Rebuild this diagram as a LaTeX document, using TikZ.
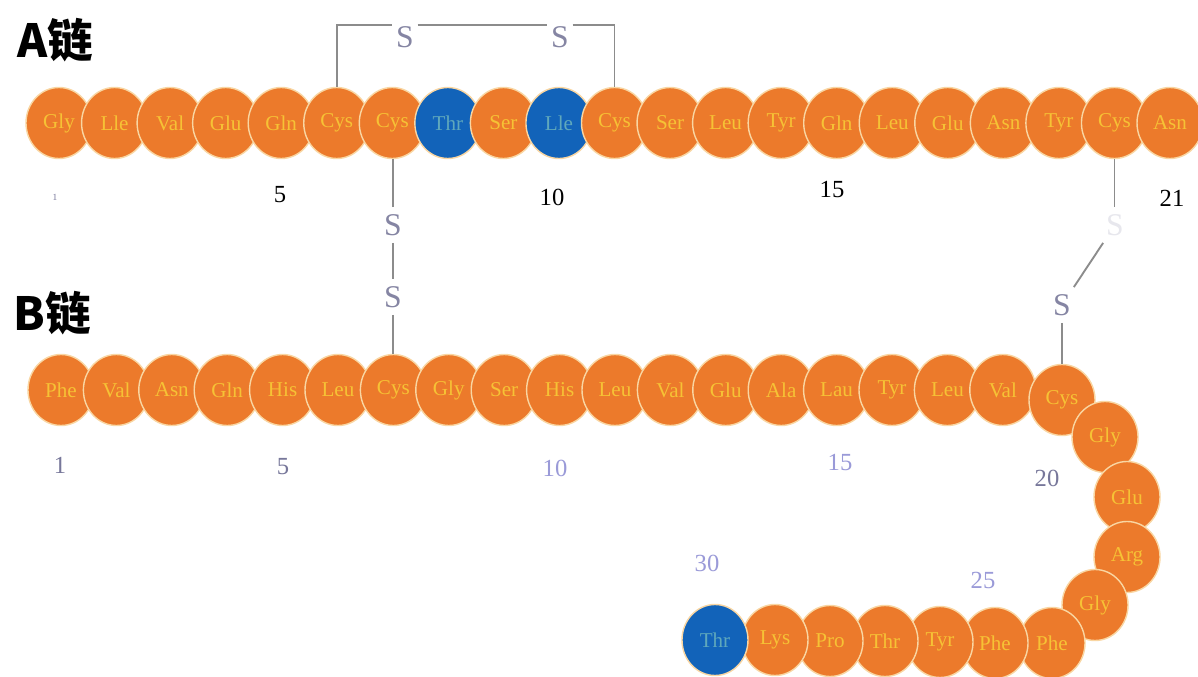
\documentclass[tikz,border=0pt]{standalone}
\usepackage{fontspec}
\setmainfont{Liberation Serif}
\newfontfamily\cjk{Noto Sans CJK SC}
\usetikzlibrary{shapes}
\definecolor{reso}{HTML}{EC7A2B}
\definecolor{resb}{HTML}{1263B9}
\definecolor{txto}{HTML}{F6C235}
\definecolor{txtb}{HTML}{5FA8BC}
\definecolor{rescream}{HTML}{F9D6A2}
\definecolor{sgray}{HTML}{8585A3}
\definecolor{bondgray}{HTML}{8C8C8C}
\definecolor{numgray}{HTML}{77779A}
\definecolor{numblue}{HTML}{9A9AD8}

\begin{document}
\begin{tikzpicture}[x=0.03cm,y=-0.03cm]
\tikzstyle{res}=[ellipse,draw=rescream,line width=1.2pt,minimum width=1.98cm,minimum height=2.13cm,inner sep=0pt,font=\fontsize{18}{18}\selectfont]
\tikzstyle{sul}=[text=sgray,font=\fontsize{27}{27}\selectfont,inner xsep=3pt,inner ysep=6pt]
\tikzstyle{bond}=[draw=bondgray,line width=1.6pt]
\tikzstyle{numA}=[font=\fontsize{21}{21}\selectfont]
\tikzstyle{numB}=[text=numgray,font=\fontsize{21}{21}\selectfont]
\tikzstyle{chainlabel}=[font=\cjk\bfseries\fontsize{39}{39}\selectfont]
\useasboundingbox (0,0) rectangle (1198,677);
\fill[white] (0,0) rectangle (1198,677);

% A chain
\foreach \t/\c [count=\i] in {Gly/o,Lle/o,Val/o,Glu/o,Gln/o,Cys/o,Cys/o,Thr/b,Ser/o,Lle/b,Cys/o,
  Ser/o,Leu/o,Tyr/o,Gln/o,Leu/o,Glu/o,Asn/o,Tyr/o,Cys/o,Asn/o}
  \node[res,fill=res\c,text=txt\c] (a\i) at ({59+55.55*(\i-1)},123) {\t};

% B chain
\foreach \t [count=\i] in {Phe,Val,Asn,Gln,His,Leu,Cys,Gly,Ser,His,Leu,Val,Glu,Ala,Lau,Tyr,Leu,Val}
  \node[res,fill=reso,text=txto] (b\i) at ({61+55.4*(\i-1)},390) {\t};
\foreach \t/\c/\x/\y [count=\i from 19] in {Cys/o/1062/400,Gly/o/1105/437,Glu/o/1127/497,
  Arg/o/1127/557,Gly/o/1095/605,Phe/o/1052/643,Phe/o/995/643,Tyr/o/940/642,
  Thr/o/885/641,Pro/o/830/641,Lys/o/775/640,Thr/b/715/640}
  \node[res,fill=res\c,text=txt\c] (b\i) at (\x,\y) {\t};

% disulfide bonds
\node[sul,inner ysep=1pt] (s1) at (405,37) {S};
\node[sul,inner ysep=1pt] (s2) at (560,37) {S};
\draw[bond] (a6.north) |- (s1.north west);
\draw[bond] (s1.north east) -- (s2.north west);
\draw[bond] (s2.north east) -| (a11.north);
\node[sul] (s3) at (393,225) {S};
\node[sul] (s4) at (393,297) {S};
\draw[bond] (s3) -- (s3 |- a7.south);
\draw[bond] (s3) -- (s4);
\draw[bond] (s4) -- (s4 |- b7.north);
\node[sul,text=sgray!20] (s5) at (1115,225) {S};
\node[sul] (s6) at (1062,305) {S};
\draw[bond] (a20.south) -- (a20.south |- s5.north);
\draw[bond] (s5) -- (s6);
\draw[bond] (s6) -- (b19.north);

% numbering
\node[numA,font=\fontsize{8}{8}\selectfont,text=numgray] (na1) at (55,197) {1};
\node[numA] (na5) at (280,195) {5};
\node[numA] (na10) at (552,197) {10};
\node[numA] (na15) at (832,189) {15};
\node[numA] (na21) at (1172,198) {21};
\node[numB] (nb1) at (60,465) {1};
\node[numB] (nb5) at (283,467) {5};
\node[numB,text=numblue] (nb10) at (555,468) {10};
\node[numB,text=numblue] (nb15) at (840,462) {15};
\node[numB] (nb20) at (1047,478) {20};
\node[numB,text=numblue] (nb25) at (983,580) {25};
\node[numB,text=numblue] (nb30) at (707,563) {30};

\node[chainlabel] (la) at (55,40) {A链};
\node[chainlabel] (lb) at (52,313) {B链};
\end{tikzpicture}
\end{document}
